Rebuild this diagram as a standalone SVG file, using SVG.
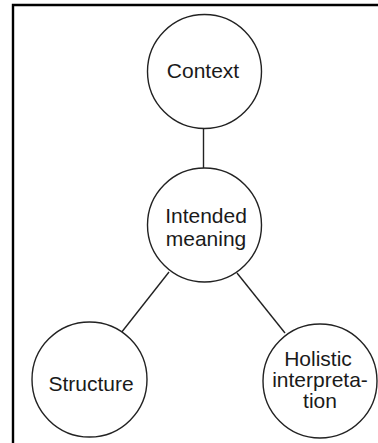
<svg xmlns="http://www.w3.org/2000/svg" width="378" height="443" viewBox="0 0 378 443">
<style>
.node circle{fill:#fff;stroke:#222;stroke-width:1.4}
.node text{font-family:"Liberation Sans",Arial,sans-serif;font-size:21px;fill:#1a1a1a;text-anchor:middle}
#edges line{stroke:#222;stroke-width:1.4}
.frame{stroke:#000;stroke-width:2.4;fill:none}
</style>
<rect width="378" height="443" fill="#fff"/>
<path class="frame" d="M13,443 V5 H378"/>
<g id="edges">
<line x1="203.5" y1="128.5" x2="203.5" y2="168"/>
<line x1="169" y1="272" x2="121" y2="333"/>
<line x1="237" y1="273" x2="285" y2="333"/>
</g>
<g id="context" class="node">
<circle cx="204.5" cy="71.5" r="57"/>
<text x="203" y="78">Context</text>
</g>
<g id="intended" class="node">
<circle cx="204.5" cy="225" r="57"/>
<text x="206" y="223">Intended</text>
<text x="206" y="246">meaning</text>
</g>
<g id="structure" class="node">
<circle cx="89.5" cy="379.5" r="57.5"/>
<text x="91" y="391">Structure</text>
</g>
<g id="holistic" class="node">
<circle cx="320" cy="381" r="57"/>
<text x="318" y="366">Holistic</text>
<text x="320" y="387">interpreta-</text>
<text x="320" y="408">tion</text>
</g>
</svg>
